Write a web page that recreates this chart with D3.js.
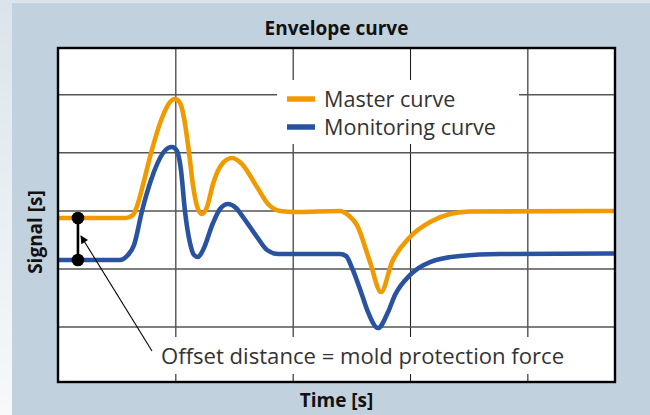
<!DOCTYPE html>
<html>
<head>
<meta charset="utf-8">
<script src="https://cdn.jsdelivr.net/npm/d3@7"></script>
<style>
  body { margin: 0; background: #fff; }
  svg { display: block; }
</style>
</head>
<body>
<div id="chart"></div>
<script>
// time in grid units (one vertical grid cell = 1), signal in grid units
const masterTime = [0, 0.580, 0.639, 0.682, 0.724, 0.793, 0.886, 0.955, 0.997, 1.040, 1.074, 1.117, 1.150, 1.193, 1.227,
  1.270, 1.321, 1.398, 1.483, 1.568, 1.696, 1.790, 1.892, 2.020, 2.403, 2.472, 2.548, 2.659, 2.753, 2.847, 3.000,
  3.171, 3.341, 3.512, 4.747];
const masterSignal = [2.869, 2.869, 2.921, 3.127, 3.438, 3.989, 4.592, 4.867, 4.919, 4.850, 4.592, 3.989, 3.438, 3.024, 2.938,
  3.059, 3.455, 3.799, 3.903, 3.799, 3.403, 3.110, 2.990, 2.972, 2.990, 2.921, 2.748, 2.111, 1.594, 2.111, 2.542,
  2.800, 2.938, 2.981, 2.990];

const monitorTime = [0, 0.528, 0.588, 0.648, 0.716, 0.793, 0.895, 0.938, 0.972, 1.014, 1.048, 1.082, 1.125, 1.159, 1.193,
  1.236, 1.321, 1.381, 1.449, 1.517, 1.577, 1.696, 1.781, 1.875, 2.403, 2.455, 2.506, 2.591, 2.642, 2.727, 2.813,
  2.872, 3.000, 3.171, 3.426, 3.767, 4.747];
const monitorSignal = [2.146, 2.146, 2.214, 2.404, 2.990, 3.524, 3.989, 4.075, 4.092, 4.023, 3.696, 2.990, 2.438, 2.232, 2.197,
  2.318, 2.783, 3.024, 3.110, 3.041, 2.886, 2.542, 2.318, 2.249, 2.249, 2.215, 2.008, 1.543, 1.250, 0.974, 1.250,
  1.543, 1.887, 2.111, 2.215, 2.249, 2.258];

const seriesNames = ["Master curve", "Monitoring curve"];
const seriesColors = ["#f19a00", "#2953a1"];
const timeTicks = [1, 2, 3, 4];
const signalTicks = [1, 2, 3, 4, 5];
const offsetAt = 0.17;   // where the offset marker sits on the time axis
const note = "Offset distance = mold protection force";

const width = 650, height = 415;
const plotLeft = 58, plotRight = 615, plotTop = 48, plotBottom = 382;
const font = "'Open Sans', 'Noto Sans', sans-serif";

const svg = d3.select("#chart").append("svg")
  .attr("width", width)
  .attr("height", height);

// backdrop
const defs = svg.append("defs");
const grad = defs.append("linearGradient").attr("id", "side")
  .attr("x1", 0).attr("y1", 0).attr("x2", 0).attr("y2", 1);
grad.append("stop").attr("offset", "0%").attr("stop-color", "#dbe4eb");
grad.append("stop").attr("offset", "100%").attr("stop-color", "#f7f9fb");
svg.append("rect").attr("width", width).attr("height", height).attr("fill", "url(#side)");
svg.append("rect").attr("x", 12).attr("y", 0).attr("width", width - 12).attr("height", 3).attr("fill", "#dde5ec");
svg.append("rect")
  .attr("x", 12).attr("y", 3)
  .attr("width", width - 12).attr("height", height - 3)
  .attr("fill", "#c1d1dd");

const x = d3.scaleLinear().domain([0, 4.747]).range([plotLeft, plotRight]);
const y = d3.scaleLinear().domain([0.044, 5.798]).range([plotBottom, plotTop]);

// plot face
svg.append("rect")
  .attr("x", plotLeft).attr("y", plotTop)
  .attr("width", plotRight - plotLeft).attr("height", plotBottom - plotTop)
  .attr("fill", "#fff");

// grid
svg.append("g")
  .attr("transform", `translate(0,${plotBottom})`)
  .call(d3.axisBottom(x).tickValues(timeTicks).tickSize(-(plotBottom - plotTop)).tickFormat(""))
  .call(g => g.select(".domain").remove())
  .call(g => g.selectAll("line").attr("stroke", "#222").attr("stroke-width", 1.1));

svg.append("g")
  .attr("transform", `translate(${plotLeft},0)`)
  .call(d3.axisLeft(y).tickValues(signalTicks).tickSize(-(plotRight - plotLeft)).tickFormat(""))
  .call(g => g.select(".domain").remove())
  .call(g => g.selectAll("line").attr("stroke", "#555").attr("stroke-width", 1.5));

// legend box (hides grid under it)
const legend = svg.append("g");
legend.append("rect")
  .attr("x", 277).attr("y", 80).attr("width", 242).attr("height", 64)
  .attr("fill", "#fff");
seriesNames.forEach((name, i) => {
  const ly = 99 + i * 28;
  legend.append("line")
    .attr("x1", 287).attr("x2", 315).attr("y1", ly).attr("y2", ly)
    .attr("stroke", seriesColors[i]).attr("stroke-width", 5.5);
  legend.append("text")
    .attr("x", 324).attr("y", ly + 7.5)
    .attr("font-family", font)
    .attr("font-size", 21.6)
    .attr("fill", "#333")
    .text(name);
});

// annotation box
svg.append("rect")
  .attr("x", 150).attr("y", 337).attr("width", 420).attr("height", 37)
  .attr("fill", "#fff");
svg.append("text")
  .attr("x", 161).attr("y", 364)
  .attr("font-family", font)
  .attr("font-size", 22.1)
  .attr("fill", "#333")
  .text(note);

// curves
const line = d3.line()
  .x(d => x(d[0]))
  .y(d => y(d[1]))
  .curve(d3.curveMonotoneX);

const series = [
  d3.zip(masterTime, masterSignal),
  d3.zip(monitorTime, monitorSignal)
];
svg.append("g")
  .selectAll("path")
  .data(series)
  .join("path")
  .attr("d", line)
  .attr("fill", "none")
  .attr("stroke", (d, i) => seriesColors[i])
  .attr("stroke-width", 4.6)
  .attr("stroke-linejoin", "round");

// offset marker
const yTop = y(masterSignal[0]), yBot = y(monitorSignal[0]);
svg.append("line")
  .attr("x1", x(offsetAt)).attr("x2", x(offsetAt))
  .attr("y1", yTop).attr("y2", yBot)
  .attr("stroke", "#000").attr("stroke-width", 2.6);
svg.selectAll("circle.dot")
  .data([yTop, yBot])
  .join("circle")
  .attr("class", "dot")
  .attr("cx", x(offsetAt)).attr("cy", d => d)
  .attr("r", 6.3)
  .attr("fill", "#000");

// arrow
defs.append("marker")
  .attr("id", "head")
  .attr("viewBox", "0 0 10 10")
  .attr("refX", 9).attr("refY", 5)
  .attr("markerWidth", 10).attr("markerHeight", 8)
  .attr("markerUnits", "userSpaceOnUse")
  .attr("orient", "auto")
  .append("path").attr("d", "M0,0L10,5L0,10z").attr("fill", "#000");
svg.append("line")
  .attr("x1", 152).attr("y1", 351)
  .attr("x2", x(offsetAt) + 3).attr("y2", 236)
  .attr("stroke", "#000").attr("stroke-width", 1.1)
  .attr("marker-end", "url(#head)");

// frame
svg.append("rect")
  .attr("x", plotLeft).attr("y", plotTop)
  .attr("width", plotRight - plotLeft).attr("height", plotBottom - plotTop)
  .attr("fill", "none").attr("stroke", "#000").attr("stroke-width", 2.4);

// titles
svg.append("text")
  .attr("x", (plotLeft + plotRight) / 2).attr("y", 35)
  .attr("text-anchor", "middle")
  .attr("font-family", font).attr("font-weight", "bold").attr("font-size", 19)
  .attr("fill", "#111")
  .text("Envelope curve");
svg.append("text")
  .attr("x", (plotLeft + plotRight) / 2).attr("y", 407)
  .attr("text-anchor", "middle")
  .attr("font-family", font).attr("font-weight", "bold").attr("font-size", 19)
  .attr("fill", "#111")
  .text("Time [s]");
svg.append("text")
  .attr("transform", `translate(42,${(plotTop + plotBottom) / 2 + 17}) rotate(-90)`)
  .attr("text-anchor", "middle")
  .attr("font-family", font).attr("font-weight", "bold").attr("font-size", 19)
  .attr("fill", "#111")
  .text("Signal [s]");
</script>
</body>
</html>
